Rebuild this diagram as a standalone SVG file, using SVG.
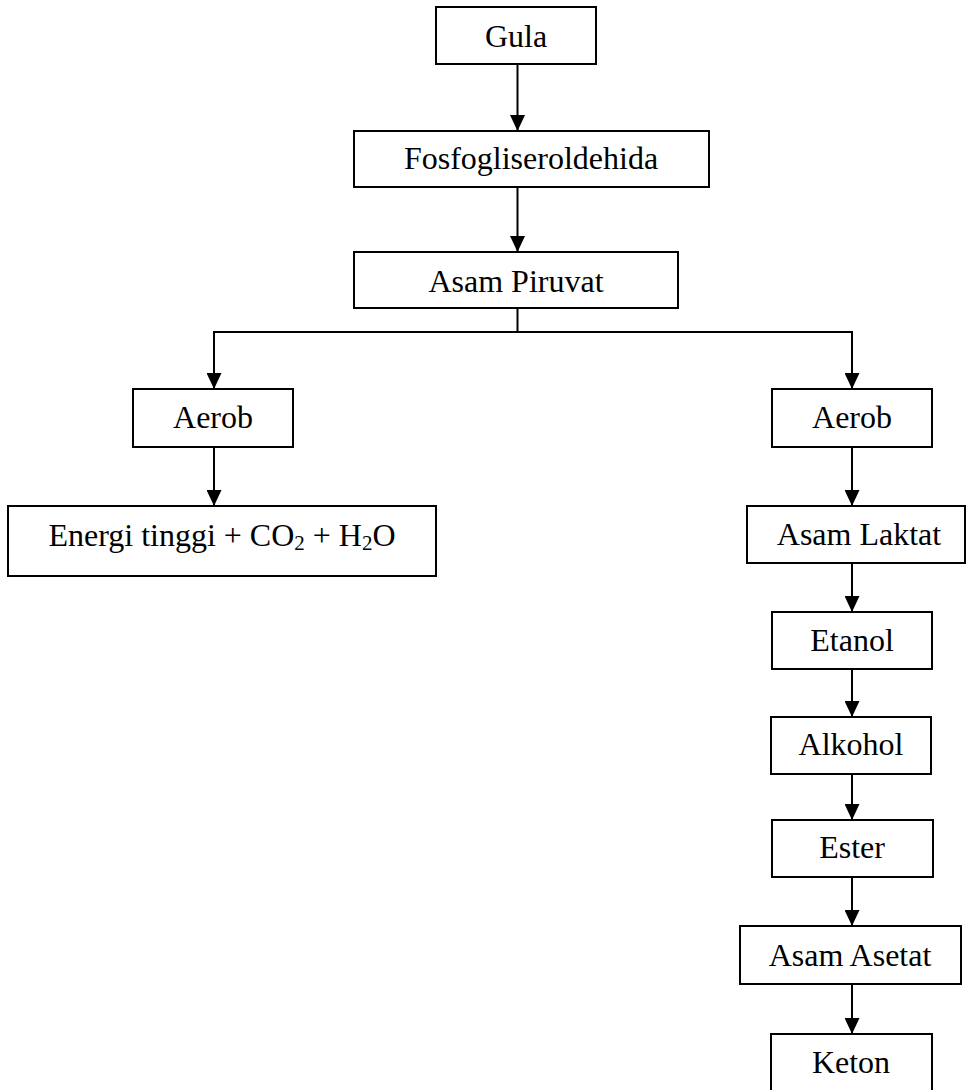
<svg xmlns="http://www.w3.org/2000/svg" width="966" height="1090" viewBox="0 0 966 1090">
<style>
.box{fill:#fff;stroke:#000;stroke-width:2}
.lbl{font-family:"Liberation Serif","Times New Roman",serif;font-size:32px;fill:#000;text-anchor:middle}
.sub{font-size:21px}
.con{fill:none;stroke:#000;stroke-width:2}
</style>
<defs>
<marker id="arr" viewBox="0 0 16 15" refX="16" refY="7.5" markerWidth="16" markerHeight="15" markerUnits="userSpaceOnUse" orient="auto">
<path d="M0,0 L16,7.5 L0,15 z" fill="#000"/>
</marker>
</defs>
<rect width="966" height="1090" fill="#fff"/>
<g id="connectors">
<line class="con" x1="517.5" y1="64" x2="517.5" y2="131" marker-end="url(#arr)"/>
<line class="con" x1="517.5" y1="187" x2="517.5" y2="252" marker-end="url(#arr)"/>
<polyline class="con" points="517.5,308 517.5,332"/>
<polyline class="con" points="214,389 214,332 852,332 852,389"/>
<line class="con" x1="214" y1="340" x2="214" y2="389" marker-end="url(#arr)"/>
<line class="con" x1="852" y1="340" x2="852" y2="389" marker-end="url(#arr)"/>
<line class="con" x1="214" y1="447" x2="214" y2="506" marker-end="url(#arr)"/>
<line class="con" x1="852" y1="447" x2="852" y2="506" marker-end="url(#arr)"/>
<line class="con" x1="852" y1="563" x2="852" y2="612" marker-end="url(#arr)"/>
<line class="con" x1="852" y1="669" x2="852" y2="717" marker-end="url(#arr)"/>
<line class="con" x1="852" y1="774" x2="852" y2="820" marker-end="url(#arr)"/>
<line class="con" x1="852" y1="877" x2="852" y2="926" marker-end="url(#arr)"/>
<line class="con" x1="852" y1="984" x2="852" y2="1034" marker-end="url(#arr)"/>
</g>
<g id="gula"><rect class="box" x="436" y="7" width="160" height="57"/><text class="lbl" x="516" y="47">Gula</text></g>
<g id="fosfo"><rect class="box" x="354" y="131" width="355" height="56"/><text class="lbl" x="531" y="169">Fosfogliseroldehida</text></g>
<g id="piruvat"><rect class="box" x="354" y="252" width="324" height="56"/><text class="lbl" x="516" y="292">Asam Piruvat</text></g>
<g id="aerob-left"><rect class="box" x="133" y="389" width="160" height="58"/><text class="lbl" x="213" y="428">Aerob</text></g>
<g id="energi"><rect class="box" x="8" y="506" width="428" height="70"/><text class="lbl" x="222" y="546">Energi tinggi + CO<tspan class="sub" dy="4">2</tspan><tspan dy="-4"> + H</tspan><tspan class="sub" dy="4">2</tspan><tspan dy="-4">O</tspan></text></g>
<g id="aerob-right"><rect class="box" x="772" y="389" width="160" height="58"/><text class="lbl" x="852" y="428">Aerob</text></g>
<g id="laktat"><rect class="box" x="747" y="506" width="218" height="57"/><text class="lbl" x="859" y="545">Asam Laktat</text></g>
<g id="etanol"><rect class="box" x="772" y="612" width="160" height="57"/><text class="lbl" x="852" y="651">Etanol</text></g>
<g id="alkohol"><rect class="box" x="771" y="717" width="160" height="57"/><text class="lbl" x="851" y="755">Alkohol</text></g>
<g id="ester"><rect class="box" x="772" y="820" width="161" height="57"/><text class="lbl" x="852" y="858">Ester</text></g>
<g id="asetat"><rect class="box" x="740" y="926" width="221" height="58"/><text class="lbl" x="850" y="966">Asam Asetat</text></g>
<g id="keton"><rect class="box" x="771" y="1034" width="161" height="62"/><text class="lbl" x="851" y="1073">Keton</text></g>
</svg>
